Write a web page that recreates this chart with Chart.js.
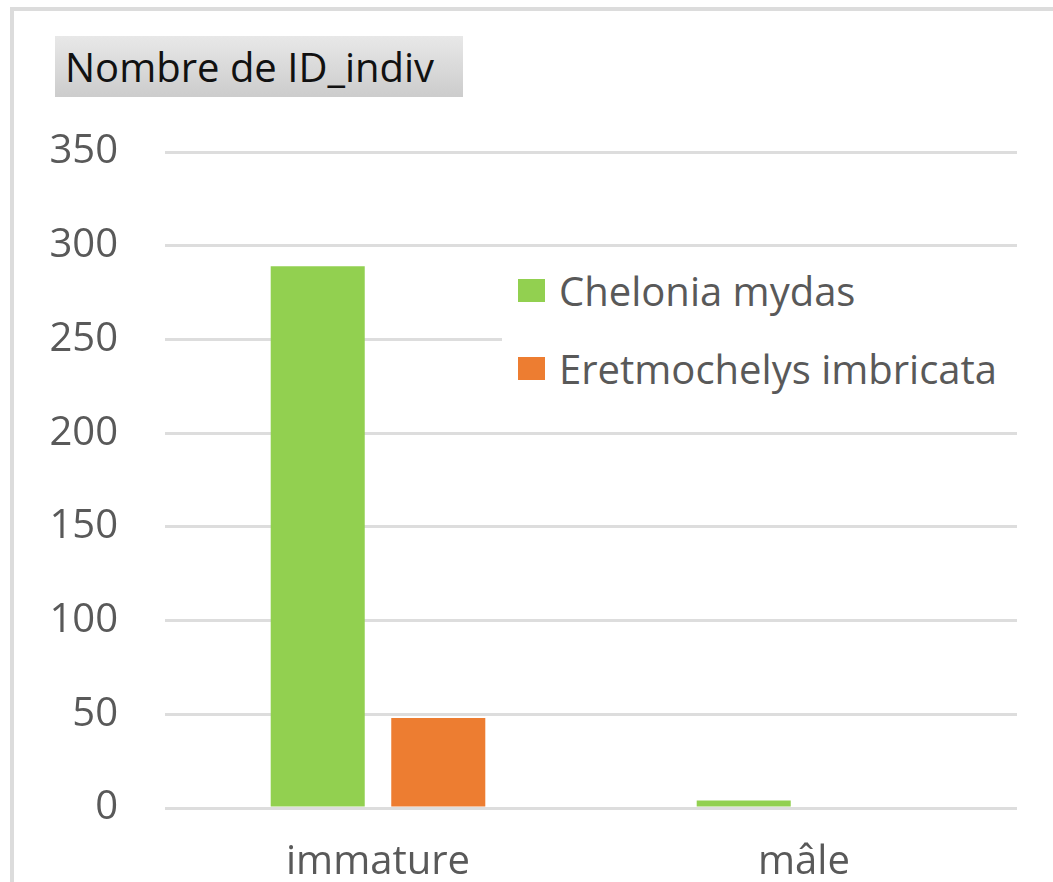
<!DOCTYPE html>
<html>
<head>
<meta charset="utf-8">
<script src="https://cdn.jsdelivr.net/npm/chart.js@4/dist/chart.umd.min.js"></script>
<style>
  html, body { margin: 0; padding: 0; background: #fff; }
  #wrap { position: relative; width: 1053px; height: 882px; overflow: hidden; font-family: "Open Sans", sans-serif; }
  #frame { position: absolute; left: 10px; top: 7px; width: 1100px; height: 900px; border-left: 4px solid #DCDCDC; border-top: 4px solid #DCDCDC; }
  #c { position: absolute; left: 0; top: 0; }
  #title { position: absolute; left: 55px; top: 36px; width: 408px; height: 61px; background: linear-gradient(#E8E8E8, #CCCCCC); color: #111111; font-size: 40px; line-height: 61px; padding-left: 10px; box-sizing: border-box; white-space: nowrap; }
  #legend { position: absolute; left: 502px; top: 256px; width: 530px; height: 160px; background: #fff; }
  .item { position: absolute; left: 16px; height: 50px; display: flex; align-items: center; color: #595959; font-size: 40px; white-space: nowrap; }
  .sw { width: 27px; height: 23px; margin-right: 14px; }
</style>
</head>
<body>
<div id="wrap">
  <div id="frame"></div>
  <canvas id="c" width="1053" height="882"></canvas>
  <div id="title">Nombre de ID_indiv</div>
  <div id="legend"></div>
</div>
<script>
const categories = ["immature", "mâle"];
const seriesNames = ["Chelonia mydas", "Eretmochelys imbricata"];
const cheloniaMydas = [289, 4];
const eretmochelysImbricata = [48, 0];
const yTicks = [0, 50, 100, 150, 200, 250, 300, 350];
const colors = ["#92D050", "#ED7D31"];

const seriesValues = [cheloniaMydas, eretmochelysImbricata];

// HTML legend
const legend = document.getElementById('legend');
seriesNames.forEach((name, i) => {
  const it = document.createElement('div');
  it.className = 'item';
  it.style.top = (i === 0 ? 9 : 87) + 'px';
  const sw = document.createElement('span');
  sw.className = 'sw';
  sw.style.background = colors[i];
  it.appendChild(sw);
  const t = document.createElement('span');
  t.textContent = name;
  it.appendChild(t);
  legend.appendChild(it);
});

new Chart(document.getElementById('c'), {
  type: 'bar',
  data: {
    labels: categories,
    datasets: seriesNames.map((n, i) => ({
      label: n,
      data: seriesValues[i],
      backgroundColor: colors[i],
      borderWidth: 0,
      categoryPercentage: 0.566,
      barPercentage: 0.78
    }))
  },
  options: {
    responsive: false,
    animation: false,
    devicePixelRatio: 1,
    layout: { padding: { top: 152, right: 36, bottom: 0, left: 0 } },
    plugins: { legend: { display: false }, tooltip: { enabled: false }, title: { display: false } },
    scales: {
      x: {
        grid: { display: false, drawTicks: false },
        border: { display: false },
        ticks: { color: '#595959', font: { family: 'Open Sans', size: 40 }, padding: 31, maxRotation: 0 },
        afterFit: (s) => { s.height = 74; }
      },
      y: {
        min: 0, max: 350,
        afterBuildTicks: (s) => { s.ticks = yTicks.map(v => ({ value: v })); },
        grid: { color: '#DDDDDD', lineWidth: 3, drawTicks: false },
        border: { display: false },
        ticks: { color: '#595959', font: { family: 'Open Sans', size: 40 }, padding: 47 },
        afterFit: (s) => { s.width = 165; }
      }
    }
  }
});
</script>
</body>
</html>
